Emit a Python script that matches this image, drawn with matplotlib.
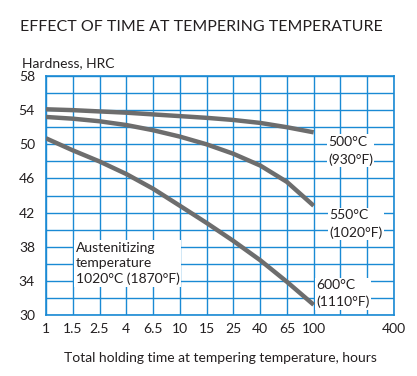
import numpy as np
import matplotlib
matplotlib.use("Agg")
import matplotlib.pyplot as plt

plt.rcParams['font.family'] = ['Lato', 'DejaVu Sans']

# holding time, hours (log-spaced grid steps)
hours = [1, 1.58, 2.5, 4, 6.3, 10, 15.8, 25, 40, 63, 100]
hrc_500 = [54.1, 54.0, 53.85, 53.7, 53.5, 53.3, 53.1, 52.85, 52.5, 52.0, 51.4]
hrc_550 = [53.2, 53.0, 52.7, 52.25, 51.65, 50.9, 50.0, 48.9, 47.5, 45.6, 42.8]
hrc_600 = [50.7, 49.3, 48.0, 46.5, 44.8, 42.8, 40.8, 38.7, 36.4, 33.9, 31.2]

x_grid = [10 ** (0.2 * k) for k in range(14)]
x_labels = ["1", "1.5", "2.5", "4", "6.5", "10", "15", "25", "40", "65", "100", "", "", "400"]
y_ticks = [30, 34, 38, 42, 46, 50, 54, 58]

blue = "#1a8ad4"
gray = "#6d6d6d"
txt = "#231f20"

fig = plt.figure(figsize=(4.17, 3.76), dpi=100)
ax = fig.add_axes([0.1103, 0.1622, 0.8345, 0.6357])

for h in [hrc_500, hrc_550, hrc_600]:
    ax.plot(hours, h, color=gray, lw=3.2, solid_capstyle="butt",
            solid_joinstyle="round", zorder=3)

ax.set_xscale("log")
ax.set_xlim(1, x_grid[-1])
ax.set_ylim(30, 58)
ax.set_xticks(x_grid)
ax.set_xticklabels(x_labels)
ax.xaxis.set_minor_locator(matplotlib.ticker.NullLocator())
ax.set_yticks(np.arange(30, 59, 2))
ax.set_yticklabels([str(v) if v in y_ticks else "" for v in range(30, 59, 2)])
ax.grid(True, color=blue, lw=1.0, zorder=1)
for s in ax.spines.values():
    s.set_color(blue)
    s.set_linewidth(1.2)
ax.tick_params(length=0, labelsize=10, colors=txt, pad=6)
ax.tick_params(axis="y", pad=8)

box = dict(facecolor="white", edgecolor="none", pad=1)
ax.text(128, 51.0, "500°C\n(930°F)", fontsize=10, color=txt, va="top", ha="left",
        bbox=box, linespacing=1.5, zorder=4)
ax.text(130, 42.4, "550°C\n(1020°F)", fontsize=10, color=txt, va="top", ha="left",
        bbox=box, linespacing=1.5, zorder=4)
ax.text(105, 34.2, "600°C\n(1110°F)", fontsize=10, color=txt, va="top", ha="left",
        bbox=box, linespacing=1.45, zorder=4)
ax.text(1.67, 38.6, "Austenitizing\ntemperature\n1020°C (1870°F)", fontsize=10, color=txt,
        va="top", ha="left", bbox=box, linespacing=1.35, zorder=4)

fig.text(0.048, 0.91, "EFFECT OF TIME AT TEMPERING TEMPERATURE", fontsize=11.5, color=txt,
         va="bottom", ha="left")
fig.text(0.053, 0.815, "Hardness, HRC", fontsize=10, color=txt, va="bottom", ha="left")
ax.set_xlabel("Total holding time at tempering temperature, hours", fontsize=10, color=txt,
              labelpad=12)

fig.savefig("out.png", dpi=100)
